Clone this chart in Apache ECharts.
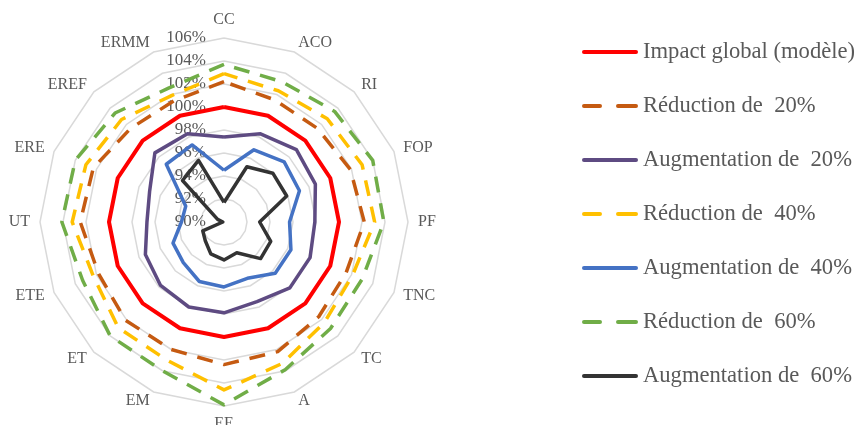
<!DOCTYPE html>
<html>
<head>
<meta charset="utf-8">
<title>Radar</title>
<script src="https://cdn.jsdelivr.net/npm/echarts@6/dist/echarts.min.js"></script>
<style>
  html, body { margin: 0; padding: 0; background: #fff; }
  #main { width: 861px; height: 425px; }
</style>
</head>
<body>
<div id="main"></div>
<script type="text/javascript">
// axes, clockwise from the top
var categories = ['CC', 'ACO', 'RI', 'FOP', 'PF', 'TNC', 'TC', 'A', 'EE', 'EM', 'ET', 'ETE', 'UT', 'ERE', 'EREF', 'ERMM'];
var ringTicks = [90, 92, 94, 96, 98, 100, 102, 104, 106];

var impactGlobal  = [100, 100, 100, 100, 100, 100, 100, 100, 100, 100, 100, 100, 100, 100, 100, 100];
var reduction20   = [102.2, 101.5, 101.5, 101.9, 102.2, 101.5, 101.65, 102.2, 102.4, 102.0, 102.1, 101.8, 102.5, 102.3, 101.5, 101.4];
var augmentation20 = [97.4, 98.3, 98.9, 98.6, 97.9, 98.1, 98.1, 97.5, 97.9, 98.0, 97.8, 97.4, 96.7, 97.0, 98.5, 98.3];
var reduction40   = [102.9, 102.35, 102.7, 103.0, 103.1, 102.1, 102.35, 103.3, 104.6, 103.0, 103.0, 102.3, 103.2, 103.0, 102.6, 101.9];
var augmentation40 = [94.5, 96.8, 97.4, 97.1, 95.7, 96.3, 96.3, 95.3, 95.65, 95.6, 95.0, 94.8, 93.7, 93.6, 97.1, 97.25];
var reduction60   = [103.7, 103.2, 103.6, 104.0, 103.9, 103.0, 103.1, 103.9, 105.9, 104.0, 104.0, 103.3, 104.1, 104.0, 103.4, 102.6];
var augmentation60 = [91.7, 95.2, 96.0, 95.9, 93.1, 94.4, 94.5, 92.9, 93.3, 93.0, 92.3, 92.0, 90.1, 90.6, 95.1, 95.8];

var seriesDefs = [
  { name: 'Impact global (modèle)', data: impactGlobal,   color: '#FF0000', type: 'solid', width: 4 },
  { name: 'Réduction de  20%',      data: reduction20,    color: '#C55A11', type: 'dashed', width: 3.5 },
  { name: 'Augmentation de  20%',   data: augmentation20, color: '#5E4B82', type: 'solid', width: 3.5 },
  { name: 'Réduction de  40%',      data: reduction40,    color: '#FFC000', type: 'dashed', width: 3.5 },
  { name: 'Augmentation de  40%',   data: augmentation40, color: '#4472C4', type: 'solid', width: 3.5 },
  { name: 'Réduction de  60%',      data: reduction60,    color: '#70AD47', type: 'dashed', width: 3.5 },
  { name: 'Augmentation de  60%',   data: augmentation60, color: '#333333', type: 'solid', width: 3.5 }
];

// echarts lays radar indicators out counter-clockwise, so flip the order after the first one
function radarOrder(arr) {
  return [arr[0]].concat(arr.slice(1).reverse());
}

var minV = ringTicks[0], maxV = ringTicks[ringTicks.length - 1];
var indicator = radarOrder(categories).map(function (c) {
  return { name: c, min: minV, max: maxV };
});

var solidIcon = 'path://M2,0H54A2,2 0 0 1 54,4H2A2,2 0 0 1 2,0Z';
var dashIcon = 'path://M2,0H18A2,2 0 0 1 18,4H2A2,2 0 0 1 2,0Z M36,0H54A2,2 0 0 1 54,4H36A2,2 0 0 1 36,0Z';

var myChart = echarts.init(document.getElementById('main'));
var option = {
  backgroundColor: '#fff',
  animation: false,
  legend: {
    orient: 'vertical',
    left: 577,
    top: 35,
    itemWidth: 56,
    itemHeight: 4,
    itemGap: 30,
    textStyle: { fontFamily: 'Liberation Serif', fontSize: 22.6, color: '#595959', lineHeight: 24 },
    data: seriesDefs.map(function (s) {
      return { name: s.name, icon: s.type === 'dashed' ? dashIcon : solidIcon };
    })
  },
  radar: {
    center: [224, 222],
    radius: 184,
    shape: 'polygon',
    splitNumber: ringTicks.length - 1,
    indicator: indicator,
    axisName: { color: '#595959', fontFamily: 'Liberation Serif', fontSize: 16 },
    nameGap: 10,
    axisLine: { show: false },
    splitLine: { lineStyle: { color: '#D9D9D9', width: 1.5 } },
    splitArea: { show: false }
  },
  polar: { center: [224, 222], radius: 184 },
  angleAxis: { type: 'value', min: 0, max: 360, show: false },
  radiusAxis: {
    type: 'value',
    min: minV,
    max: maxV,
    interval: 2,
    axisLine: { show: false },
    axisTick: { show: false },
    splitLine: { show: false },
    axisLabel: {
      formatter: '{value}%',
      color: '#595959',
      fontFamily: 'Liberation Serif',
      fontSize: 17,
      margin: 18
    }
  },
  series: seriesDefs.map(function (s) {
    return {
      name: s.name,
      type: 'radar',
      symbol: 'none',
      itemStyle: { color: s.color },
      lineStyle: { color: s.color, width: s.width, type: s.type === 'dashed' ? [16, 11] : 'solid' },
      data: [{ value: radarOrder(s.data), name: s.name }]
    };
  })
};
myChart.setOption(option);
</script>
</body>
</html>
